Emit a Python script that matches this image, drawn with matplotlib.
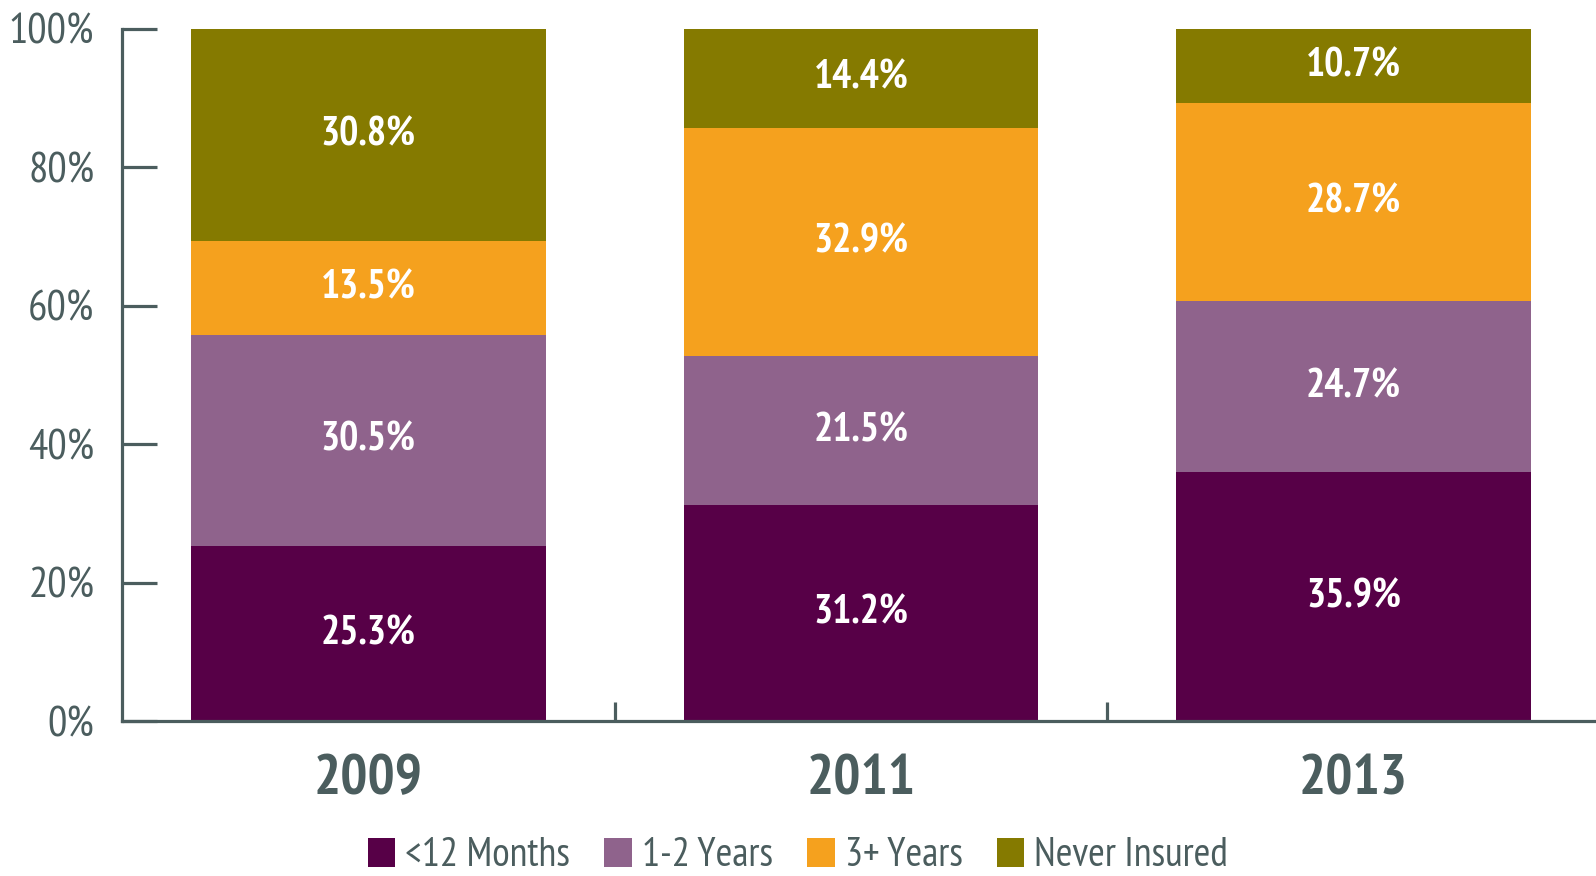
import matplotlib
matplotlib.use("Agg")
import matplotlib.pyplot as plt
import numpy as np

years = ["2009", "2011", "2013"]
series_names = ["<12 Months", "1-2 Years", "3+ Years", "Never Insured"]
under_12_months = [25.3, 31.2, 35.9]
one_to_two_years = [30.5, 21.5, 24.7]
three_plus_years = [13.5, 32.9, 28.7]
never_insured = [30.8, 14.4, 10.7]
y_ticks = [0, 20, 40, 60, 80, 100]
y_tick_labels = ["0%", "20%", "40%", "60%", "80%", "100%"]

colors = ["#570047", "#8F638C", "#F5A11E", "#857A00"]
axis_color = "#4B5D5E"

plt.rcParams['font.family'] = ['PT Sans Narrow', 'DejaVu Sans']

fig = plt.figure(figsize=(15.96, 8.76), dpi=100)
ax = fig.add_axes([122/1596, 1-721/876, (1600-122)/1596, (721-28.5)/876])

x = np.arange(len(years))
series = [under_12_months, one_to_two_years, three_plus_years, never_insured]
bottom = np.zeros(len(years))
for name, vals, c in zip(series_names, series, colors):
    vals = np.array(vals)
    ax.bar(x, vals, bottom=bottom, width=0.72, color=c, label=name, zorder=2)
    for xi, b, v in zip(x, bottom, vals):
        ax.text(xi, b + v/2, f"{v:.1f}%", ha='center', va='center', color='white',
                fontsize=29, fontweight='bold', zorder=3)
    bottom += vals

ax.set_xlim(-0.5, 2.5)
ax.set_ylim(0, 100)
ax.set_yticks(y_ticks)
ax.set_yticklabels(y_tick_labels)
ax.set_xticks(x)
ax.set_xticklabels(years, fontsize=41, fontweight='bold', color=axis_color)
ax.set_xticks([0.5, 1.5, 2.5], minor=True)

for s in ['top', 'right']:
    ax.spines[s].set_visible(False)
for s in ['left', 'bottom']:
    ax.spines[s].set_color(axis_color)
    ax.spines[s].set_linewidth(2.3)

ax.tick_params(axis='y', direction='in', length=25, width=2.3, color=axis_color,
               labelcolor=axis_color, labelsize=31, pad=20)
ax.tick_params(axis='x', which='major', length=0, pad=24)
ax.tick_params(axis='x', which='minor', direction='in', length=14, width=2.3, color=axis_color)

handles, labels = ax.get_legend_handles_labels()
leg = fig.legend(handles, labels, loc='center', bbox_to_anchor=(0.5, 20/876), ncol=4,
                 frameon=False, fontsize=29, handlelength=0.68, handleheight=0.75,
                 handletextpad=0.25, columnspacing=0.85, labelcolor=axis_color,
                 borderpad=0, borderaxespad=0)

fig.savefig("out.png", dpi=100)
